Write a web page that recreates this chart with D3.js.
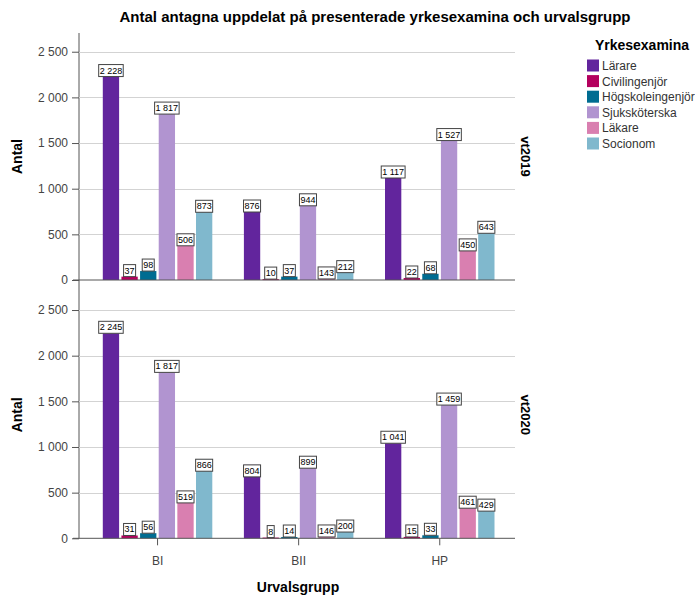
<!DOCTYPE html>
<html><head><meta charset="utf-8">
<script src="https://cdn.jsdelivr.net/npm/d3@7"></script>
<style>
body{margin:0;background:#fff;}
text{font-family:"Liberation Sans",Arial,sans-serif;}
</style></head>
<body><svg id="c" width="695" height="597"></svg>
<script>
const groups = ["BI","BII","HP"];
const series = ["Lärare","Civilingenjör","Högskoleingenjör","Sjuksköterska","Läkare","Socionom"];
const colors = ["#62259d","#b4005e","#006c91","#b194d0","#d97fb0","#80b8cd"];
const panels = ["vt2019","vt2020"];
// values[series][group]
const vt2019 = [
  [2228, 876, 1117],
  [37, 10, 22],
  [98, 37, 68],
  [1817, 944, 1527],
  [506, 143, 450],
  [873, 212, 643]
];
const vt2020 = [
  [2245, 804, 1041],
  [31, 8, 15],
  [56, 14, 33],
  [1817, 899, 1459],
  [519, 146, 461],
  [866, 200, 429]
];
const panelValues = [vt2019, vt2020];
const yTicks = [0,500,1000,1500,2000,2500];

const svg = d3.select("#c");
const fmt = v => d3.format(",")(v).replace(/,/g, " ");
const xL = 79, xR = 515;
const panelRanges = [[280, 33], [538.3, 291.3]];
const yMax = 2705;

const x0 = d3.scaleBand().domain(groups).range([87, 510.3]).padding(0);
const groupW = 109.5;
const x1 = d3.scaleBand().domain(series).range([0, groupW]).paddingInner(0.125).paddingOuter(0);

// title
svg.append("text").attr("x", 375).attr("y", 22).attr("text-anchor","middle")
  .attr("font-size", 15).attr("font-weight","bold").attr("fill","#000")
  .text("Antal antagna uppdelat på presenterade yrkesexamina och urvalsgrupp");

// y axis line
svg.append("line").attr("x1", xL).attr("x2", xL).attr("y1", 33).attr("y2", 538.3)
  .attr("stroke","#555").attr("stroke-width",1);

panels.forEach((p, pi) => {
  const y = d3.scaleLinear().domain([0, yMax]).range(panelRanges[pi]);
  const g = svg.append("g");
  g.selectAll(".grid").data(yTicks.filter(t => t > 0)).join("line")
    .attr("x1", xL).attr("x2", xR).attr("y1", d => Math.round(y(d)) + 0.5).attr("y2", d => Math.round(y(d)) + 0.5)
    .attr("stroke", "#d3d3d3").attr("stroke-width", 1);
  const ax = d3.axisLeft(y).tickValues(yTicks).tickSize(7).tickFormat(fmt);
  const axg = g.append("g").attr("transform", `translate(${xL},0)`).call(ax);
  axg.select(".domain").remove();
  axg.selectAll("line").attr("stroke","#555");
  axg.selectAll("text").attr("font-size", 12).attr("fill","#444")
    .attr("font-family","'Liberation Sans',Arial,sans-serif").attr("dx", -1);
  const cy = (panelRanges[pi][0] + panelRanges[pi][1]) / 2;
  g.append("text").attr("transform", `translate(22,${cy}) rotate(-90)`)
    .attr("text-anchor","middle").attr("font-size", 14).attr("font-weight","bold").text("Antal");
  g.append("text").attr("transform", `translate(521,${cy}) rotate(90)`)
    .attr("text-anchor","middle").attr("font-size", 13).attr("font-weight","bold").text(p);

  const vals = panelValues[pi];
  const data = [];
  series.forEach((s, si) => groups.forEach((gr, gi) => data.push({s, si, gr, v: vals[si][gi]})));
  const bx = d => x0(d.gr) + x0.bandwidth()/2 - groupW/2 + x1(d.s);
  g.selectAll(".bar").data(data).join("rect")
    .attr("x", bx).attr("width", x1.bandwidth())
    .attr("y", d => y(d.v)).attr("height", d => Math.max(y(0) - y(d.v), 1))
    .attr("fill", d => colors[d.si]);
  g.append("line").attr("x1", 73).attr("x2", xR).attr("y1", y(0)).attr("y2", y(0))
    .attr("stroke","#555").attr("stroke-width",1);
  const lg = g.append("g");
  data.forEach(d => {
    const label = fmt(d.v);
    const t = lg.append("text").attr("font-size", 9).attr("fill","#000").attr("text-anchor","middle").text(label);
    const tw = t.node().getComputedTextLength();
    const bw = tw + 2, bh = 12;
    const cx = bx(d) + x1.bandwidth()/2;
    const barH = y(0) - y(d.v);
    const inside = label.length <= 3 && barH >= bh;
    const top = inside ? y(d.v) : y(d.v) - bh;
    lg.insert("rect", "text").attr("x", cx - bw/2).attr("y", top).attr("width", bw).attr("height", bh)
      .attr("fill","#fff").attr("stroke","#444").attr("stroke-width",1);
    t.attr("x", cx).attr("y", top + 9);
    lg.node().appendChild(t.node());
  });
  if (pi === 1) {
    groups.forEach(gr => {
      const cx = x0(gr) + x0.bandwidth()/2;
      g.append("line").attr("x1", cx).attr("x2", cx).attr("y1", y(0)).attr("y2", y(0) + 7).attr("stroke","#555");
      g.append("text").attr("x", cx).attr("y", 565).attr("text-anchor","middle").attr("font-size",12).attr("fill","#444").text(gr);
    });
  }
});

svg.append("text").attr("x", 298).attr("y", 592).attr("text-anchor","middle")
  .attr("font-size", 14).attr("font-weight","bold").text("Urvalsgrupp");

const leg = svg.append("g");
leg.append("text").attr("x", 642).attr("y", 50).attr("text-anchor","middle")
  .attr("font-size", 14).attr("font-weight","bold").text("Yrkesexamina");
series.forEach((s, i) => {
  const cy = 65.5 + i * 15.6;
  leg.append("rect").attr("x", 587).attr("y", cy - 6).attr("width", 12).attr("height", 12).attr("fill", colors[i]);
  leg.append("text").attr("x", 602).attr("y", cy + 4.5).attr("font-size", 12).attr("fill","#333").text(s);
});
</script></body></html>
